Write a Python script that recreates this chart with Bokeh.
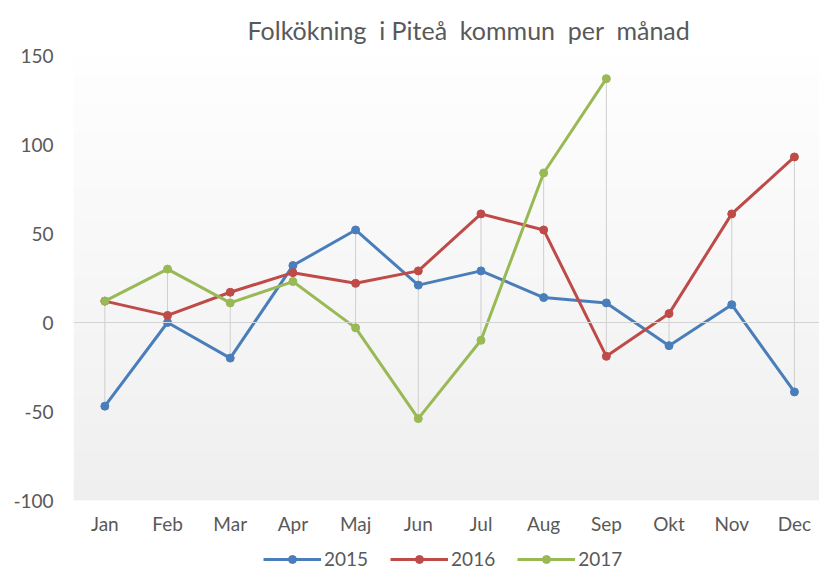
import numpy as np
from bokeh.plotting import figure
from bokeh.layouts import column
from bokeh.models import Span, Legend, LegendItem, FixedTicker, Range1d
from bokeh.embed import file_html
from bokeh.resources import INLINE

title_text = "Folkökning\u00a0\u00a0i Piteå\u00a0\u00a0kommun\u00a0\u00a0per\u00a0\u00a0månad"
months = ["Jan", "Feb", "Mar", "Apr", "Maj", "Jun", "Jul", "Aug", "Sep", "Okt", "Nov", "Dec"]
y2015 = [-47, 0, -20, 32, 52, 21, 29, 14, 11, -13, 10, -39]
y2016 = [12, 4, 17, 28, 22, 29, 61, 52, -19, 5, 61, 93]
y2017 = [12, 30, 11, 23, -3, -54, -10, 84, 137]
y_ticks = [-100, -50, 0, 50, 100, 150]
y_tick_labels = ["-100", "-50", "0", "50", "100", "150"]
series_names = ["2015", "2016", "2017"]
series_values = [y2015, y2016, y2017]
series_colors = ["#4a7ebb", "#be4b48", "#98b954"]

FONT = "Lato"
TEXT_COLOR = "#595959"

y_min, y_max = y_ticks[0], y_ticks[-1]

p = figure(width=819, height=540, output_backend="svg", toolbar_location=None,
           x_range=Range1d(-0.5, 11.4), y_range=Range1d(y_min, y_max),
           min_border_left=73, min_border_right=0, min_border_top=55, min_border_bottom=40)
p.outline_line_color = None
p.background_fill_color = "#ffffff"
p.border_fill_color = "#ffffff"
p.xgrid.visible = False
p.ygrid.visible = False

# gradient plot-area background
n = 64
grad = np.zeros((n, 1), dtype=np.uint32)
view = grad.view(dtype=np.uint8).reshape((n, 1, 4))
for i in range(n):
    t = i / (n - 1)  # 0 bottom -> 1 top
    c = int(round(0xef + (0xfe - 0xef) * t))
    view[i, 0, :] = [c, c, c, 255]
p.image_rgba(image=[grad], x=p.x_range.start, y=y_min,
             dw=p.x_range.end - p.x_range.start, dh=y_max - y_min)

# zero line
p.add_layout(Span(location=0, dimension="width", line_color="#d4d4d4", line_width=1))

# high-low lines
xs = list(range(len(months)))
hi, lo = [], []
for i in xs:
    vals = [s[i] for s in series_values if i < len(s)]
    hi.append(max(vals))
    lo.append(min(vals))
p.segment(x0=xs, y0=lo, x1=xs, y1=hi, line_color="#cfcfcf", line_width=1)

for name, vals, col in zip(series_names, series_values, series_colors):
    xx = xs[:len(vals)]
    p.line(xx, vals, line_color=col, line_width=3)
    p.scatter(xx, vals, size=8, fill_color=col, line_color=col)

# axes
p.xaxis.ticker = FixedTicker(ticks=xs)
p.xaxis.major_label_overrides = {i: m for i, m in enumerate(months)}
p.yaxis.ticker = FixedTicker(ticks=y_ticks)
p.yaxis.major_label_overrides = {t: l for t, l in zip(y_ticks, y_tick_labels)}
for ax in (p.xaxis[0], p.yaxis[0]):
    ax.axis_label = None
    ax.axis_line_color = None
    ax.major_tick_line_color = None
    ax.minor_tick_line_color = None
    ax.major_tick_in = 0
    ax.major_tick_out = 0
    ax.major_label_text_font = FONT
    ax.major_label_text_font_size = "19px"
    ax.major_label_text_color = TEXT_COLOR
p.yaxis.major_label_standoff = 20
p.xaxis.major_label_standoff = 11

# title
p.title.text = title_text
p.title.align = "left"
p.title.offset = 174
p.title.standoff = 22
p.title.text_font = FONT
p.title.text_font_size = "25px"
p.title.text_font_style = "normal"
p.title.text_color = TEXT_COLOR

# legend strip below the chart (series drawn there outside its visible range,
# so that only the legend shows)
lg = figure(width=819, height=30, output_backend="svg", toolbar_location=None,
            x_range=Range1d(-0.5, 11.4), y_range=Range1d(10 * y_max, 10 * y_max + 1),
            x_axis_location=None, y_axis_location=None,
            min_border_left=0, min_border_right=0, min_border_top=0, min_border_bottom=0)
lg.outline_line_color = None
lg.xgrid.visible = False
lg.ygrid.visible = False
items = []
for name, vals, col in zip(series_names, series_values, series_colors):
    xx = xs[:len(vals)]
    r1 = lg.line(xx, vals, line_color=col, line_width=3)
    r2 = lg.scatter(xx, vals, size=8, fill_color=col, line_color=col)
    items.append(LegendItem(label=name, renderers=[r1, r2]))
legend = Legend(items=items, orientation="horizontal", location=(263, 0),
                label_text_font=FONT, label_text_font_size="19px", label_text_color=TEXT_COLOR,
                glyph_width=58, glyph_height=20, label_height=20, label_standoff=3, spacing=22,
                padding=0, margin=0, border_line_color=None, background_fill_alpha=0)
legend.location = (190, 0)
lg.add_layout(legend, "center")

layout = column(p, lg, spacing=0)
open("out.html", "w").write(file_html(layout, INLINE))
